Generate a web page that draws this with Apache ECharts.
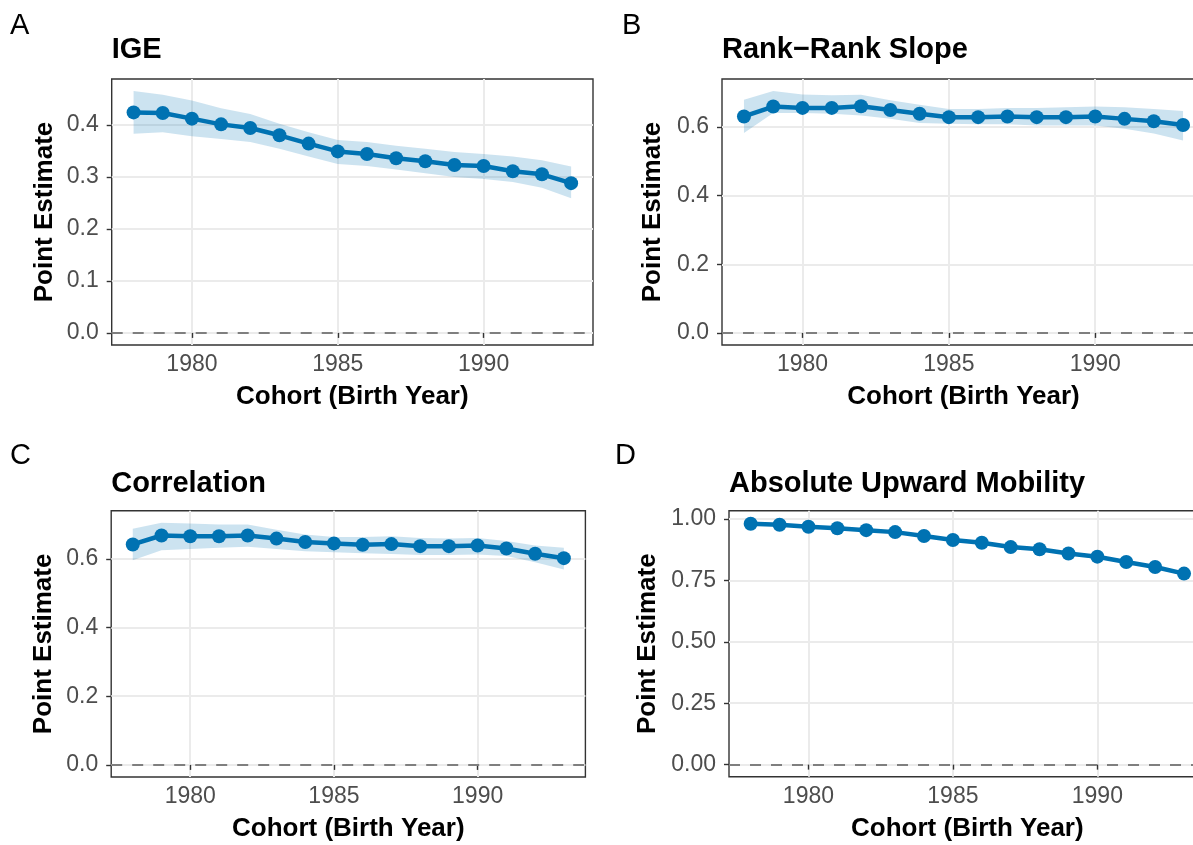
<!DOCTYPE html>
<html>
<head>
<meta charset="utf-8">
<script src="https://cdn.jsdelivr.net/npm/echarts@6/dist/echarts.min.js"></script>
<style>
  html, body { margin: 0; padding: 0; background: #fff; overflow: hidden; }
  #chart { width: 1216px; height: 845px; }
</style>
</head>
<body>
<div id="chart"></div>
<script>
// ---------------- data ----------------
const years = [1978, 1979, 1980, 1981, 1982, 1983, 1984, 1985, 1986, 1987, 1988, 1989, 1990, 1991, 1992, 1993];
const xTicks = [1980, 1985, 1990];

const igeEst = [0.424, 0.423, 0.412, 0.401, 0.394, 0.380, 0.364, 0.349, 0.344, 0.336, 0.330, 0.323, 0.321, 0.311, 0.305, 0.288];
const igeLo  = [0.383, 0.386, 0.378, 0.373, 0.367, 0.354, 0.339, 0.325, 0.321, 0.314, 0.307, 0.300, 0.296, 0.290, 0.279, 0.259];
const igeHi  = [0.465, 0.458, 0.447, 0.432, 0.421, 0.402, 0.386, 0.371, 0.367, 0.360, 0.354, 0.348, 0.344, 0.339, 0.332, 0.320];
const igeTicks = [0.0, 0.1, 0.2, 0.3, 0.4];

const rrEst = [0.631, 0.660, 0.656, 0.656, 0.661, 0.650, 0.639, 0.629, 0.629, 0.631, 0.629, 0.629, 0.631, 0.624, 0.617, 0.606];
const rrLo  = [0.583, 0.641, 0.641, 0.639, 0.634, 0.624, 0.612, 0.610, 0.608, 0.608, 0.605, 0.605, 0.605, 0.595, 0.581, 0.561];
const rrHi  = [0.680, 0.705, 0.695, 0.693, 0.694, 0.678, 0.665, 0.653, 0.653, 0.656, 0.656, 0.658, 0.660, 0.658, 0.653, 0.647];
const rrTicks = [0.0, 0.2, 0.4, 0.6];

const corEst = [0.642, 0.668, 0.666, 0.666, 0.668, 0.659, 0.649, 0.645, 0.641, 0.643, 0.637, 0.637, 0.639, 0.630, 0.615, 0.602];
const corLo  = [0.596, 0.625, 0.629, 0.632, 0.635, 0.629, 0.622, 0.619, 0.616, 0.614, 0.611, 0.611, 0.613, 0.608, 0.590, 0.569];
const corHi  = [0.688, 0.705, 0.703, 0.700, 0.700, 0.685, 0.671, 0.664, 0.664, 0.666, 0.661, 0.659, 0.661, 0.652, 0.639, 0.632];
const corTicks = [0.0, 0.2, 0.4, 0.6];

const aumEst = [0.981, 0.977, 0.969, 0.963, 0.955, 0.947, 0.931, 0.915, 0.904, 0.886, 0.877, 0.860, 0.847, 0.825, 0.805, 0.778];
const aumLo  = [0.977, 0.973, 0.965, 0.959, 0.951, 0.943, 0.927, 0.910, 0.899, 0.881, 0.871, 0.855, 0.841, 0.819, 0.798, 0.769];
const aumHi  = [0.985, 0.981, 0.973, 0.967, 0.959, 0.951, 0.935, 0.919, 0.908, 0.891, 0.881, 0.865, 0.852, 0.831, 0.811, 0.786];
const aumTicks = [0.00, 0.25, 0.50, 0.75, 1.00];

const panelLetters = ['A', 'B', 'C', 'D'];
const panelTitles = ['IGE', 'Rank\u2212Rank Slope', 'Correlation', 'Absolute Upward Mobility'];
const xName = 'Cohort (Birth Year)';
const yName = 'Point Estimate';

// ---------------- layout / style ----------------
const FONT = '"Liberation Sans", Arial, Helvetica, sans-serif';
const BLUE = '#0072B2';
const panels = [
  { est: igeEst, lo: igeLo, hi: igeHi, ticks: igeTicks, dec: 1,
    grid: { left: 111.7, top: 79, width: 481.3, height: 266 }, yGap: 54,
    letter: { left: 10, top: 11 }, title: { left: 111.7, top: 35 } },
  { est: rrEst, lo: rrLo, hi: rrHi, ticks: rrTicks, dec: 1,
    grid: { left: 722, top: 79, width: 483, height: 266 }, yGap: 56,
    letter: { left: 622, top: 11 }, title: { left: 722, top: 35 } },
  { est: corEst, lo: corLo, hi: corHi, ticks: corTicks, dec: 1,
    grid: { left: 111.2, top: 510.7, width: 474.2, height: 266.3 }, yGap: 54,
    letter: { left: 10, top: 441 }, title: { left: 111.2, top: 469 } },
  { est: aumEst, lo: aumLo, hi: aumHi, ticks: aumTicks, dec: 2,
    grid: { left: 729, top: 510.7, width: 476.7, height: 266 }, yGap: 68,
    letter: { left: 615, top: 441 }, title: { left: 729, top: 469 } }
];

const xMin = years[0] - 0.05 * (years[years.length - 1] - years[0]);
const xMax = years[years.length - 1] + 0.05 * (years[years.length - 1] - years[0]);

const option = {
  backgroundColor: '#ffffff',
  animation: false,
  title: [],
  grid: [],
  xAxis: [],
  yAxis: [],
  series: []
};

panels.forEach((p, i) => {
  const top = Math.max(...p.hi, 0);
  const span = top - 0;
  const yMin = 0 - 0.05 * span;
  const yMax = top + 0.05 * span;

  option.title.push({
    text: panelLetters[i], left: p.letter.left, top: p.letter.top, padding: 0,
    textStyle: { fontFamily: FONT, fontSize: 29, fontWeight: 'normal', color: '#000' }
  });
  option.title.push({
    text: panelTitles[i], left: p.title.left, top: p.title.top, padding: 0,
    textStyle: { fontFamily: FONT, fontSize: 29, fontWeight: 'bold', color: '#000' }
  });

  option.grid.push(Object.assign({
    show: true, borderColor: '#333333', borderWidth: 1.4, backgroundColor: '#ffffff',
    containLabel: false
  }, p.grid));

  option.xAxis.push({
    type: 'value', gridIndex: i, min: xMin, max: xMax,
    axisLine: { show: false },
    axisTick: { show: true, length: 5, customValues: xTicks, lineStyle: { color: '#333333', width: 1.4 } },
    axisLabel: { show: true, customValues: xTicks, margin: 8, fontFamily: FONT, fontSize: 23, color: '#4D4D4D',
                 formatter: v => String(v) },
    splitLine: { show: true, lineStyle: { color: '#EBEBEB', width: 2 } },
    name: xName, nameLocation: 'middle', nameGap: 39,
    nameTextStyle: { fontFamily: FONT, fontSize: 26, fontWeight: 'bold', color: '#000' }
  });

  option.yAxis.push({
    type: 'value', gridIndex: i, min: yMin, max: yMax,
    axisLine: { show: false },
    axisTick: { show: true, length: 5, customValues: p.ticks, lineStyle: { color: '#333333', width: 1.4 } },
    axisLabel: { show: true, customValues: p.ticks, margin: 13, fontFamily: FONT, fontSize: 23, color: '#4D4D4D',
                 formatter: v => Number(v).toFixed(p.dec) },
    splitLine: { show: true, lineStyle: { color: '#EBEBEB', width: 2 } },
    name: yName, nameLocation: 'middle', nameGap: p.yGap, nameRotate: 90,
    nameTextStyle: { fontFamily: FONT, fontSize: 26, fontWeight: 'bold', color: '#000' }
  });

  // confidence ribbon
  option.series.push({
    type: 'custom', xAxisIndex: i, yAxisIndex: i, silent: true, z: 2,
    data: years.map((y, k) => [y, p.lo[k], p.hi[k]]),
    encode: { x: 0, y: [1, 2] },
    renderItem: (params, api) => {
      if (params.dataIndex !== 0) return null;
      const pts = [];
      for (let k = 0; k < years.length; k++) pts.push(api.coord([years[k], p.hi[k]]));
      for (let k = years.length - 1; k >= 0; k--) pts.push(api.coord([years[k], p.lo[k]]));
      return { type: 'polygon', shape: { points: pts }, style: { fill: 'rgba(0,114,178,0.2)', stroke: null } };
    }
  });

  // point estimates + zero reference line
  option.series.push({
    type: 'line', xAxisIndex: i, yAxisIndex: i, z: 3,
    data: years.map((y, k) => [y, p.est[k]]),
    symbol: 'circle', symbolSize: 14, showSymbol: true,
    lineStyle: { color: BLUE, width: 4.5 },
    itemStyle: { color: BLUE },
    emphasis: { disabled: true },
    markLine: {
      silent: true, symbol: 'none', label: { show: false },
      lineStyle: { color: '#7F7F7F', width: 2.2, type: [11, 10] },
      data: [{ yAxis: 0 }]
    }
  });
});

const chart = echarts.init(document.getElementById('chart'), null, { renderer: 'canvas' });
chart.setOption(option);
</script>
</body>
</html>
